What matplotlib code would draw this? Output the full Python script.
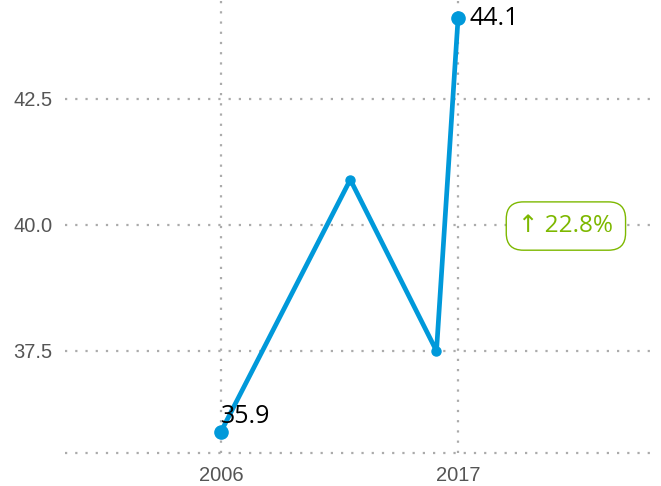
import matplotlib
matplotlib.use("Agg")
import matplotlib.pyplot as plt

# yearly values
years = [2006, 2012, 2016, 2017]
values = [35.9, 40.9, 37.5, 44.1]
xticks = [2006, 2017]
yticks = [37.5, 40.0, 42.5]
change_label = "↑ 22.8%"

BLUE = "#0099DA"
GREEN = "#7DB800"
GRID = "#ABABAB"

fig = plt.figure(figsize=(6.61, 4.86), dpi=100)
ax = fig.add_axes([65 / 661, 33 / 486, 590 / 661, 453 / 486])

ax.plot(years, values, color=BLUE, linewidth=3.4, solid_capstyle="round", zorder=3)
ax.plot(years[1:-1], values[1:-1], "o", color=BLUE, markersize=6.5, zorder=4)
ax.plot([years[0], years[-1]], [values[0], values[-1]], "o", color=BLUE,
        markersize=9.5, zorder=4)

ax.set_xlim(1998.76, 2026.14)
ax.set_ylim(35.476, 44.464)
ax.set_xticks(xticks)
ax.set_yticks(yticks)
ax.set_yticklabels([f"{v:.1f}" for v in yticks])

dots = (0, (1, 3.6))
ax.grid(True, color=GRID, linestyle=dots, linewidth=1.6)
for side in ["top", "right", "left"]:
    ax.spines[side].set_visible(False)
ax.spines["bottom"].set_color(GRID)
ax.spines["bottom"].set_linestyle(dots)
ax.spines["bottom"].set_linewidth(1.6)
ax.spines["bottom"].set_capstyle("butt")
ax.tick_params(length=0, labelsize=14.5, labelcolor="#555555", pad=9)
for lab in ax.get_xticklabels() + ax.get_yticklabels():
    lab.set_family("Liberation Sans")

# first / last value labels
ax.annotate(f"{values[0]}", (years[0], values[0]), xytext=(0, 6),
            textcoords="offset points", ha="left", va="baseline",
            fontsize=18, family="Open Sans", color="black", zorder=5)
ax.annotate(f"{values[-1]}", (years[-1], values[-1]), xytext=(8, 0),
            textcoords="offset points", ha="left", va="center",
            fontsize=18, family="Open Sans", color="black", zorder=5)

ax.text(0.849, 0.501, change_label, transform=ax.transAxes, ha="center",
        va="center", fontsize=17.5, family=["Open Sans", "DejaVu Sans"],
        color=GREEN,
        bbox=dict(boxstyle="round,pad=0.5,rounding_size=0.7", fc="white",
                  ec=GREEN, lw=1))

fig.savefig("out.png", dpi=100)
